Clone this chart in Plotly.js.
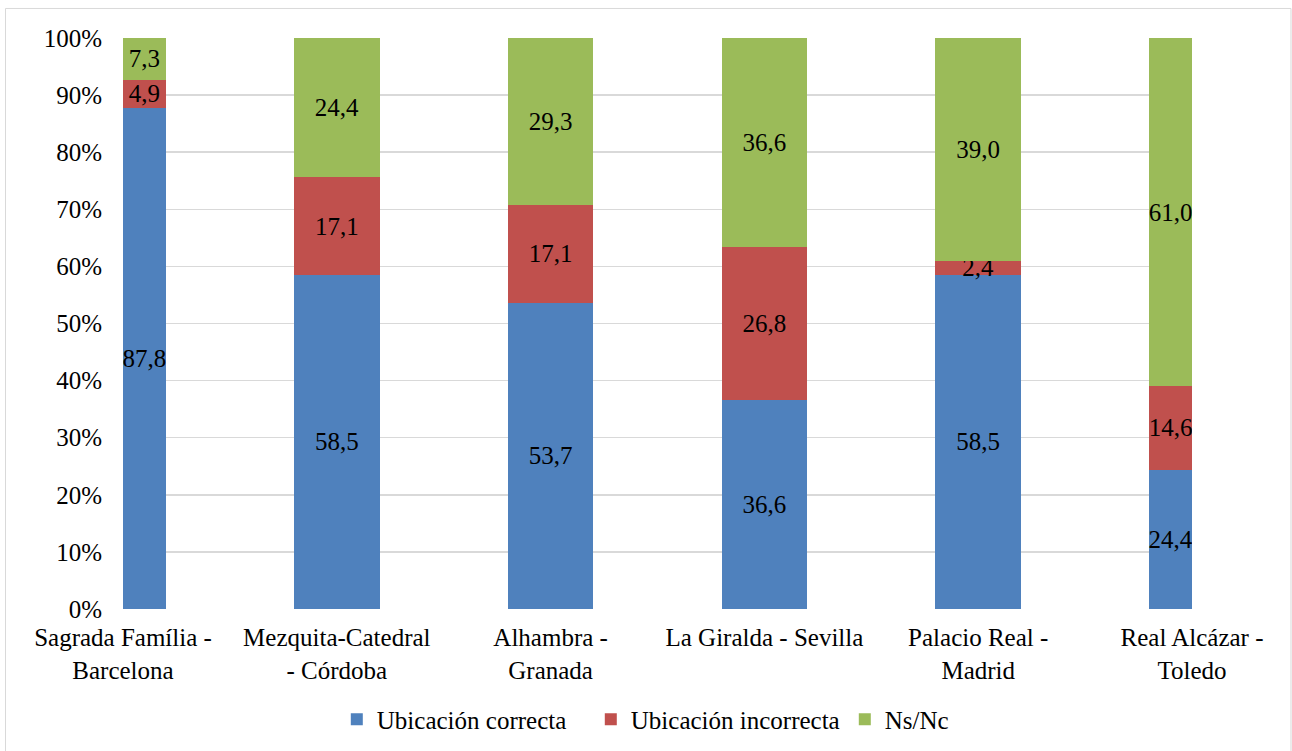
<!DOCTYPE html>
<html>
<head>
<meta charset="utf-8">
<script src="https://cdn.plot.ly/plotly-3.0.1.min.js"></script>
<style>
html,body{margin:0;padding:0;background:#fff;}
#chart{width:1292px;height:751px;}
</style>
</head>
<body>
<div id="chart"></div>
<script>
// ---- data ----
const categories = [
  "Sagrada Família -<br>Barcelona",
  "Mezquita-Catedral<br>- Córdoba",
  "Alhambra -<br>Granada",
  "La Giralda - Sevilla",
  "Palacio Real -<br>Madrid",
  "Real Alcázar -<br>Toledo"
];
const seriesNames = ["Ubicación correcta", "Ubicación incorrecta", "Ns/Nc"];
const correcta   = [87.8, 58.5, 53.7, 36.6, 58.5, 24.4];
const incorrecta = [4.9, 17.1, 17.1, 26.8, 2.4, 14.6];
const nsnc       = [7.3, 24.4, 29.3, 36.6, 39.0, 61.0];
const yTicks = [0,10,20,30,40,50,60,70,80,90,100];

// ---- styles ----
const colors = ["#4f81bd", "#c0504d", "#9bbb59"];
const FONT = "Liberation Serif, Times New Roman, serif";
const FS = 25;
const barWidths  = [0.2, 0.4, 0.4, 0.4, 0.4, 0.2];
const barOffsets = [0, -0.2, -0.2, -0.2, -0.2, -0.2];

const fmt = v => v.toFixed(1).replace('.', ',');

const traces = [correcta, incorrecta, nsnc].map((vals, i) => ({
  type: 'bar',
  name: seriesNames[i],
  x: categories,
  y: vals,
  width: barWidths,
  offset: barOffsets,
  marker: {color: colors[i], line: {width: 0}},
  text: vals.map(fmt),
  textposition: 'inside',
  insidetextanchor: 'middle',
  constraintext: 'none',
  textangle: 0,
  textfont: {family: FONT, size: FS, color: '#000'},
  hoverinfo: 'none'
}));

const layout = {
  width: 1292, height: 751,
  margin: {l: 123, r: 100, t: 38, b: 142},
  paper_bgcolor: '#fff', plot_bgcolor: '#fff',
  barmode: 'stack',
  barnorm: 'percent',
  font: {family: FONT, size: FS, color: '#000'},
  xaxis: {
    type: 'category',
    range: [0, 5],
    showgrid: false, zeroline: false, showline: false,
    ticks: '', ticklabelstandoff: 11,
    tickfont: {family: FONT, size: FS, color: '#000'},
    automargin: false
  },
  yaxis: {
    range: [0, 100],
    tickvals: yTicks,
    ticktext: yTicks.map(t => t + '%'),
    showgrid: true, gridcolor: '#d9d9d9', gridwidth: 1.5,
    zeroline: false, showline: false,
    ticks: '', ticklabelstandoff: 20,
    tickfont: {family: FONT, size: FS, color: '#000'},
    automargin: false
  },
  showlegend: true,
  legend: {
    orientation: 'h',
    x: 0.2, xanchor: 'left',
    yref: 'container',
    y: 0.042, yanchor: 'middle',
    font: {family: FONT, size: FS, color: '#000'},
    entrywidth: 209, entrywidthmode: 'pixels',
    traceorder: 'normal'
  },
  shapes: [{
    type: 'rect', xref: 'paper', yref: 'paper',
    x0: -0.1099, x1: 1.0926, y0: -0.3, y1: 1.0517,
    line: {color: '#d9d9d9', width: 1}, fillcolor: 'rgba(0,0,0,0)', layer: 'below'
  }]
};

Plotly.newPlot('chart', traces, layout, {displayModeBar: false, staticPlot: true});
</script>
</body>
</html>
